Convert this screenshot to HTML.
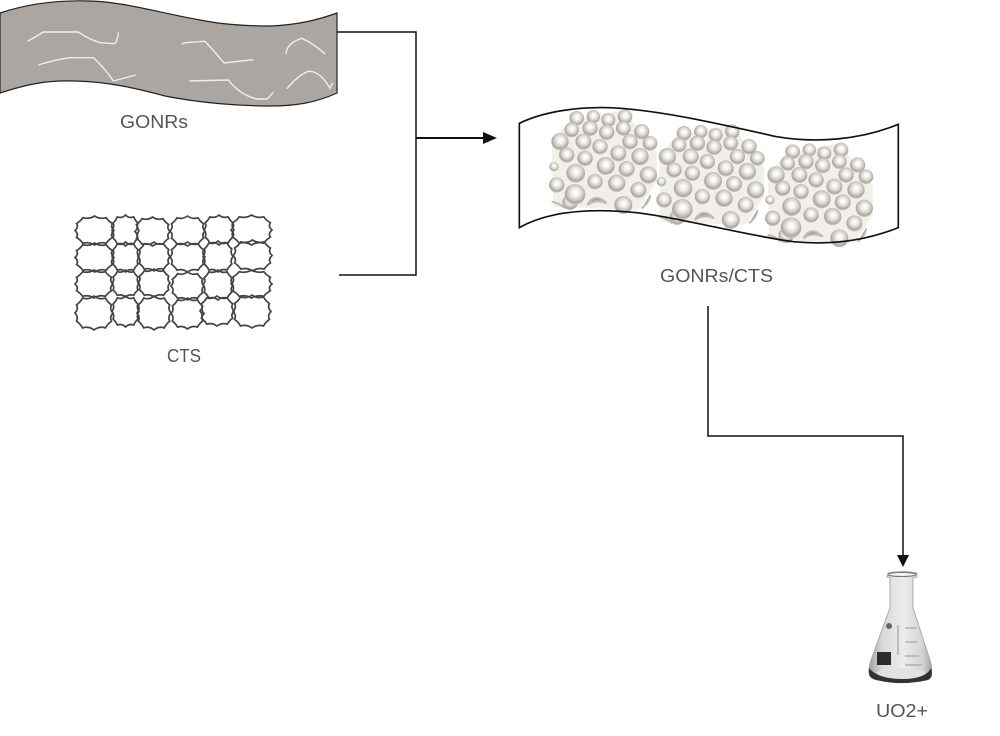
<!DOCTYPE html>
<html>
<head>
<meta charset="utf-8">
<style>
html,body{margin:0;padding:0;background:#fff;width:1000px;height:736px;overflow:hidden}
svg{display:block}
text{font-family:"Liberation Sans",sans-serif;font-size:18px;fill:#555}
</style>
</head>
<body>
<svg width="1000" height="736" viewBox="0 0 1000 736" xmlns="http://www.w3.org/2000/svg">
<defs>
<radialGradient id="p" cx="52%" cy="42%" r="55%">
<stop offset="0" stop-color="#ffffff"/>
<stop offset=".28" stop-color="#f6f5f2"/>
<stop offset=".62" stop-color="#d2d0ca"/>
<stop offset=".88" stop-color="#a9a79f"/>
<stop offset="1" stop-color="#c4c2ba"/>
</radialGradient>
<linearGradient id="fl" x1="0" x2="1" y1="0" y2="0">
<stop offset="0" stop-color="#a2a2a2"/>
<stop offset=".2" stop-color="#d8d8d8"/>
<stop offset=".55" stop-color="#ececec"/>
<stop offset=".85" stop-color="#d4d4d4"/>
<stop offset="1" stop-color="#a8a8a8"/>
</linearGradient>
<path id="c" d="M4,26 Q14,18 20,6 Q36,12 50,0 Q64,12 80,6 Q86,18 96,26 Q90,38 100,50 Q90,62 96,74 Q86,82 80,94 Q64,88 50,100 Q36,88 20,94 Q14,82 4,74 Q10,62 0,50 Q10,38 4,26 Z" fill="none" stroke="#444" stroke-width="1.7" vector-effect="non-scaling-stroke"/>
<g id="cl">
<path d="M180,75 L340,45 L440,170 L440,260 L385,345 L130,335 L125,140 Z" fill="#f1efe9"/>
<g fill="url(#p)">
<circle cx="200" cy="70" r="22"/><circle cx="250" cy="65" r="20"/><circle cx="295" cy="75" r="21"/><circle cx="345" cy="65" r="22"/>
<circle cx="185" cy="105" r="22"/><circle cx="240" cy="100" r="23"/><circle cx="290" cy="112" r="23"/><circle cx="340" cy="100" r="22"/><circle cx="395" cy="110" r="23"/>
<circle cx="150" cy="140" r="26"/><circle cx="220" cy="140" r="24"/><circle cx="270" cy="155" r="23"/><circle cx="360" cy="140" r="23"/><circle cx="420" cy="145" r="22"/>
<circle cx="170" cy="180" r="23"/><circle cx="225" cy="190" r="23"/><circle cx="325" cy="175" r="24"/><circle cx="390" cy="185" r="26"/>
<circle cx="132" cy="215" r="14"/><circle cx="287" cy="213" r="27"/><circle cx="350" cy="222" r="24"/><circle cx="197" cy="235" r="28"/><circle cx="415" cy="240" r="26"/>
<circle cx="140" cy="270" r="23"/><circle cx="255" cy="260" r="23"/><circle cx="320" cy="265" r="26"/><circle cx="385" cy="285" r="24"/>
<circle cx="180" cy="322" r="23"/><circle cx="195" cy="298" r="31"/><circle cx="340" cy="330" r="27"/>
</g>
<path d="M232,330 Q255,290 290,325 Q258,310 232,330Z M125,320 Q150,325 165,340 M395,340 Q420,320 420,300" fill="#9d9b92" stroke="#bcbab2" stroke-width="6"/>
</g>
</defs>

<!-- GONRs ribbon -->
<path d="M0,13 C30,3 60,0 90,1 C125,2 160,13 200,20 C225,25 250,26 270,26 C295,25 315,21 337,13 L337,93 C315,103 295,106 270,106 C240,106 200,103 165,96 C135,88 110,82 75,81 C45,80 25,85 0,93 Z" fill="#aba6a2" stroke="#222" stroke-width="1.2"/>
<g fill="none" stroke="#f1eeea" stroke-width="4.2" transform="scale(.3333)">
<path d="M82,124 Q105,112 130,96 L235,96 Q265,118 300,128 L345,131 Q353,122 355,97"/>
<path d="M115,195 Q160,180 210,173 L280,173 Q315,205 340,243 L407,225"/>
<path d="M545,133 L555,128 L615,124 Q645,155 672,189 L760,179"/>
<path d="M568,243 L685,240 Q720,285 770,297 L802,297 L820,277"/>
<path d="M858,162 Q860,130 905,115 Q940,130 975,162"/>
<path d="M861,266 Q895,225 925,214 Q960,212 990,265 L998,248"/>
</g>
<text x="120" y="128" textLength="68" lengthAdjust="spacingAndGlyphs">GONRs</text>

<!-- CTS network -->
<g>
<use href="#c" transform="translate(75,216) scale(.39,.29)"/>
<use href="#c" transform="translate(112,215) scale(.27,.31)"/>
<use href="#c" transform="translate(135,217) scale(.35,.29)"/>
<use href="#c" transform="translate(170,216) scale(.35,.30)"/>
<use href="#c" transform="translate(204,215) scale(.30,.30)"/>
<use href="#c" transform="translate(231,215) scale(.41,.30)"/>

<use href="#c" transform="translate(75,243) scale(.39,.29)"/>
<use href="#c" transform="translate(112,242) scale(.27,.30)"/>
<use href="#c" transform="translate(138,242) scale(.32,.29)"/>
<use href="#c" transform="translate(170,242) scale(.35,.30)"/>
<use href="#c" transform="translate(203,241) scale(.30,.31)"/>
<use href="#c" transform="translate(233,240) scale(.39,.31)"/>

<use href="#c" transform="translate(75,270) scale(.38,.28)"/>
<use href="#c" transform="translate(112,270) scale(.27,.27)"/>
<use href="#c" transform="translate(138,269) scale(.32,.28)"/>
<use href="#c" transform="translate(171,272) scale(.33,.28)"/>
<use href="#c" transform="translate(203,270) scale(.30,.30)"/>
<use href="#c" transform="translate(231,270) scale(.41,.28)"/>

<use href="#c" transform="translate(75,296) scale(.38,.34)"/>
<use href="#c" transform="translate(112,296) scale(.27,.31)"/>
<use href="#c" transform="translate(137,296) scale(.34,.34)"/>
<use href="#c" transform="translate(171,298) scale(.33,.31)"/>
<use href="#c" transform="translate(200,296) scale(.34,.30)"/>
<use href="#c" transform="translate(233,295) scale(.38,.33)"/>
</g>
<text x="167" y="362" textLength="34" lengthAdjust="spacingAndGlyphs">CTS</text>

<!-- Connectors -->
<g fill="none" stroke="#111" stroke-width="1.5">
<path d="M337,32 H416 V275 H339"/>
<path d="M416,138 H486" stroke-width="2"/>
<path d="M708,306 V436 H903 V558"/>
</g>
<path d="M483,132 L497,138 L483,144 Z" fill="#111"/>
<path d="M897,555 L909,555 L903,567 Z" fill="#111"/>

<!-- GONRs/CTS ribbon -->
<g transform="translate(510,95) scale(.3333)">
<use href="#cl"/>
<use href="#cl" transform="translate(322,45)"/>
<use href="#cl" transform="translate(648,100)"/>
<path d="M28,85 C100,50 200,35 300,38 C450,45 620,85 800,125 C920,145 1050,135 1165,88 L1165,398 C1060,440 950,450 850,440 C700,420 520,370 380,353 C250,340 120,345 28,398 Z" fill="none" stroke="#111" stroke-width="5"/>
</g>
<text x="660" y="282" textLength="113" lengthAdjust="spacingAndGlyphs">GONRs/CTS</text>

<!-- Flask -->
<g>
<path d="M888,573 Q902,570 917,573 L917,577 L913,578 L913,608 L930,660 Q934,673 928,678 Q902,687 876,679 Q866,673 871,660 L890,608 L890,578 L887,577 Z" fill="url(#fl)" stroke="#aaa" stroke-width="1"/>
<ellipse cx="902" cy="574.5" rx="14" ry="2" fill="#f4f4f4" stroke="#777" stroke-width="1"/>
<path d="M869,668 Q867,678 876,680 Q902,686 928,680 Q934,677 931,668 Q926,679 902,679 Q878,679 869,668 Z" fill="#333"/>
<ellipse cx="901" cy="673" rx="24" ry="5" fill="#e2e2e2"/>
<rect x="877" y="652" width="14" height="13" fill="#2b2b2b"/>
<circle cx="889" cy="626" r="3" fill="#666"/>
<g stroke="#999" stroke-width="1"><path d="M898,625 V655"/><path d="M905,628 H917M905,642 H917M905,656 H919M905,665 H922"/></g>
</g>
<text x="876" y="717" textLength="52" lengthAdjust="spacingAndGlyphs">UO2+</text>
</svg>
</body>
</html>
